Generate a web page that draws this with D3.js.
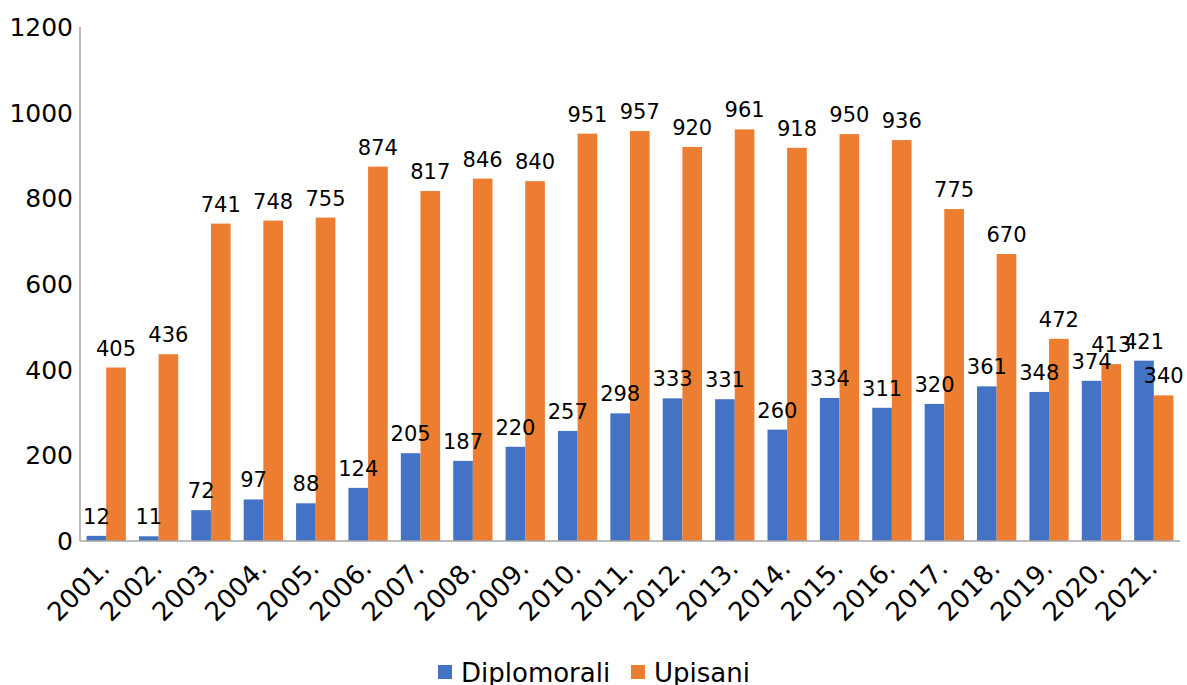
<!DOCTYPE html>
<html>
  <head>
    <style>
      body,
      html {
        margin: 0;
        padding: 0;
        background: #fff;
      }
      text {
        font-family: 'DejaVu Sans', sans-serif;
      }
    </style>
  </head>
  <body>
    <svg id="svg" width="1187" height="685"></svg>
    <script src="https://cdn.jsdelivr.net/npm/d3@7"></script>
    <script>
      const years = ['2001.', '2002.', '2003.', '2004.', '2005.', '2006.', '2007.', '2008.', '2009.', '2010.', '2011.',
        '2012.', '2013.', '2014.', '2015.', '2016.', '2017.', '2018.', '2019.', '2020.', '2021.'];
      const diplomorali = [12, 11, 72, 97, 88, 124, 205, 187, 220, 257, 298, 333, 331, 260, 334, 311, 320, 361, 348, 374, 421];
      const upisani = [405, 436, 741, 748, 755, 874, 817, 846, 840, 951, 957, 920, 961, 918, 950, 936, 775, 670, 472, 413, 340];
      const seriesNames = ['Diplomorali', 'Upisani'];
      const yTicks = [0, 200, 400, 600, 800, 1000, 1200];

      const colors = ['#4472C4', '#ED7D31'];
      const plotLeft = 80;
      const plotRight = 1180;
      const plotTop = 27;
      const plotBottom = 541;

      const svg = d3.select('#svg');

      const xScale = d3.scaleBand().domain(years).range([plotLeft, plotRight]).paddingInner(0.25).paddingOuter(0.125);
      const xSub = d3.scaleBand().domain(seriesNames).range([0, xScale.bandwidth()]);
      const yScale = d3.scaleLinear().domain([0, 1200]).range([plotBottom, plotTop]);

      const rows = years.map((y, i) => ({ year: y, values: [diplomorali[i], upisani[i]] }));

      // y tick labels
      svg
        .append('g')
        .selectAll('text')
        .data(yTicks)
        .enter()
        .append('text')
        .attr('x', plotLeft - 7)
        .attr('y', (d) => yScale(d))
        .attr('dy', '0.36em')
        .attr('text-anchor', 'end')
        .attr('font-size', 25)
        .attr('fill', '#000')
        .text((d) => d);

      // bars
      const groups = svg
        .append('g')
        .selectAll('g')
        .data(rows)
        .enter()
        .append('g')
        .attr('transform', (d) => `translate(${xScale(d.year)},0)`);

      groups
        .selectAll('rect')
        .data((d) => d.values.map((v, j) => ({ v, s: seriesNames[j], j })))
        .enter()
        .append('rect')
        .attr('x', (d) => xSub(d.s))
        .attr('width', xSub.bandwidth())
        .attr('y', (d) => yScale(d.v))
        .attr('height', (d) => plotBottom - yScale(d.v))
        .attr('fill', (d) => colors[d.j]);

      groups
        .selectAll('text')
        .data((d) => d.values.map((v, j) => ({ v, s: seriesNames[j], j })))
        .enter()
        .append('text')
        .attr('x', (d) => xSub(d.s) + xSub.bandwidth() / 2)
        .attr('y', (d) => yScale(d.v) - 12)
        .attr('text-anchor', 'middle')
        .attr('font-size', 21)
        .attr('fill', '#000')
        .text((d) => d.v);

      // axes lines
      svg
        .append('line')
        .attr('x1', plotLeft)
        .attr('x2', plotLeft)
        .attr('y1', plotTop)
        .attr('y2', plotBottom)
        .attr('stroke', '#a6a6a6')
        .attr('stroke-width', 1.5);
      svg
        .append('line')
        .attr('x1', plotLeft)
        .attr('x2', plotRight)
        .attr('y1', plotBottom)
        .attr('y2', plotBottom)
        .attr('stroke', '#a6a6a6')
        .attr('stroke-width', 1.5);

      // x tick labels
      svg
        .append('g')
        .selectAll('text')
        .data(years)
        .enter()
        .append('text')
        .attr('transform', (d) => `translate(${xScale(d) + xScale.bandwidth() / 2 + 5},${plotBottom + 29}) rotate(-45)`)
        .attr('text-anchor', 'end')
        .attr('font-size', 26)
        .attr('fill', '#000')
        .text((d) => d);

      // legend
      const legendX = [438, 631];
      const legend = svg
        .append('g')
        .selectAll('g')
        .data(seriesNames)
        .enter()
        .append('g')
        .attr('transform', (d, i) => `translate(${legendX[i]},665)`);
      legend
        .append('rect')
        .attr('width', 14)
        .attr('height', 14)
        .attr('fill', (d, i) => colors[i]);
      legend
        .append('text')
        .attr('x', 23)
        .attr('y', 17)
        .attr('font-size', 26)
        .attr('fill', '#000')
        .text((d) => d);
    </script>
  </body>
</html>
